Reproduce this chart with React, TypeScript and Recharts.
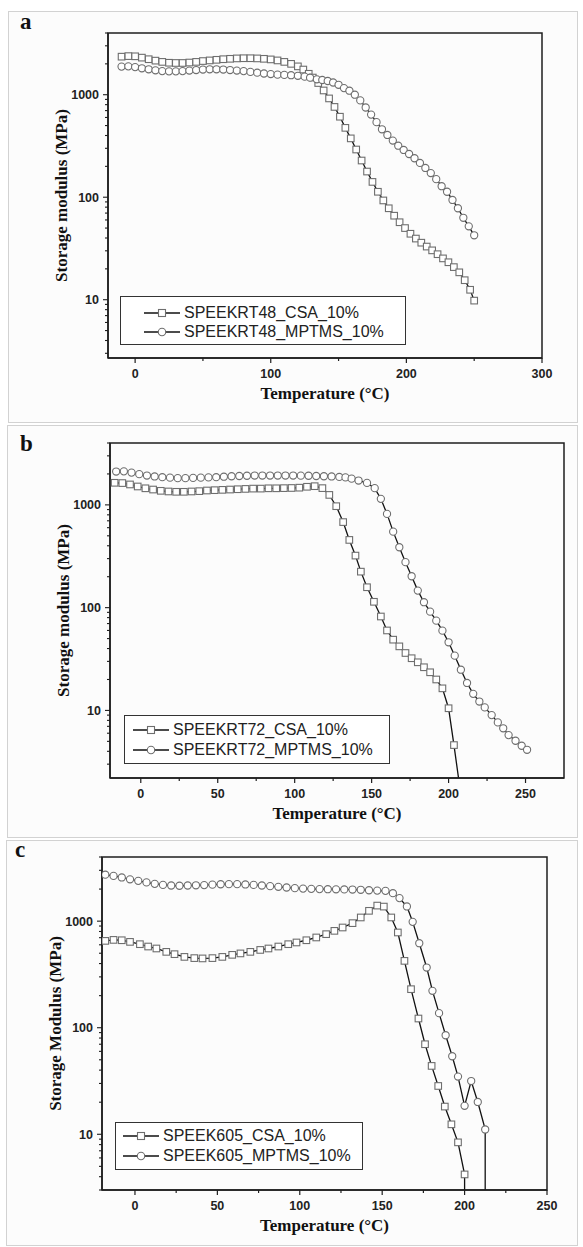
import React from 'react';
import { LineChart, Line, XAxis, YAxis, Legend, Label, ReferenceArea } from 'recharts';

// ---------- Panel a ----------
const tempA_CSA = [-10, -5, 0, 5, 10, 15, 20, 25, 30, 35, 40, 45, 50, 55, 60, 65, 70, 75, 80, 85, 90, 95, 100, 105, 110, 115, 120, 124, 128, 131, 135, 139, 143, 147, 151, 155, 159, 163, 167, 171, 175, 179, 183, 187, 191, 195, 199, 203, 207, 211, 215, 219, 223, 227, 231, 235, 239, 243, 247, 250];
const modA_CSA = [2350, 2380, 2370, 2300, 2220, 2150, 2090, 2050, 2040, 2040, 2060, 2090, 2130, 2160, 2190, 2220, 2240, 2260, 2270, 2270, 2260, 2240, 2210, 2160, 2090, 2000, 1890, 1760, 1600, 1470, 1300, 1100, 920, 760, 610, 475, 375, 292, 228, 178, 141, 113, 93, 78, 66, 57, 50, 44, 39.5, 36, 33, 30.3, 27.8, 25.3, 23.2, 20.8, 18.5, 15.5, 12.5, 9.8];
const tempA_MPTMS = [-10, -5, 0, 5, 10, 15, 20, 25, 30, 35, 40, 45, 50, 55, 60, 65, 70, 75, 80, 85, 90, 95, 100, 105, 110, 115, 120, 125, 129, 134, 138, 142, 146, 150, 154, 158, 162, 166, 170, 174, 178, 182, 186, 190, 194, 198, 202, 206, 210, 214, 218, 222, 226, 230, 234, 238, 242, 246, 250];
const modA_MPTMS = [1880, 1890, 1860, 1810, 1770, 1730, 1700, 1690, 1690, 1700, 1720, 1740, 1760, 1770, 1770, 1760, 1740, 1720, 1700, 1670, 1640, 1610, 1590, 1570, 1560, 1550, 1530, 1500, 1466, 1413, 1392, 1361, 1315, 1250, 1160, 1094, 1000, 880, 750, 640, 540, 460, 405, 357, 318, 289, 264, 240, 216, 193, 172, 150, 128, 113, 94, 78, 63, 52, 42.5];

// ---------- Panel b ----------
const tempB_CSA = [-17, -12, -7, -2, 3, 8, 13, 18, 23, 28, 33, 38, 43, 48, 53, 58, 63, 68, 73, 78, 83, 88, 93, 98, 103, 108, 113, 118, 122.5, 127, 131.5, 135.5, 139.5, 143, 147, 151.5, 156, 160, 164, 168, 172, 176, 180, 184, 188, 192, 196, 200, 203.5, 208];
const modB_CSA = [1640, 1630, 1580, 1510, 1450, 1410, 1370, 1350, 1340, 1340, 1350, 1360, 1380, 1390, 1400, 1410, 1420, 1430, 1440, 1440, 1450, 1450, 1455, 1460, 1470, 1500, 1520, 1455, 1250, 971, 680, 456, 321, 224, 158, 114, 82, 60, 48.8, 42, 36.2, 32.2, 29.4, 26.3, 23.5, 20, 16.4, 10.5, 4.6, 1.5];
const tempB_MPTMS = [-16, -11, -6, -1, 4, 9, 14, 19, 24, 29, 34, 39, 44, 49, 54, 59, 64, 69, 74, 79, 84, 89, 94, 99, 104, 109, 114, 119, 124, 129, 133, 137, 141.5, 147, 152, 156, 160, 164, 168, 172, 176, 180, 184, 188, 192, 196, 200, 204, 208, 212, 216, 220, 223.5, 228, 232, 235.5, 239, 243.5, 247.5, 251];
const modB_MPTMS = [2110, 2120, 2060, 1990, 1930, 1890, 1860, 1840, 1820, 1820, 1830, 1840, 1850, 1860, 1880, 1900, 1910, 1920, 1930, 1930, 1930, 1930, 1930, 1930, 1925, 1920, 1910, 1900, 1890, 1870, 1850, 1800, 1725, 1637, 1455, 1144, 817, 549, 387, 277, 202, 146.5, 113, 91.4, 74.7, 59.7, 46, 34.1, 24.9, 18.5, 14.5, 12.2, 10.7, 9.0, 7.65, 6.7, 5.75, 5.07, 4.53, 4.14];

// ---------- Panel c ----------
const tempC_CSA = [-18, -13, -8, -3, 3, 8, 13, 19, 24, 30, 36, 41, 47, 53, 59, 64, 70, 76, 81, 87, 93, 98, 104, 110, 116, 121, 126, 132, 137, 142, 147, 151, 155.5, 159.5, 163.5, 167.5, 172, 176, 180, 184, 188, 192, 196, 200, 200];
const modC_CSA = [653, 667, 662, 639, 608, 578, 554, 515, 490, 462, 450, 447, 450, 462, 483, 498, 515, 537, 554, 578, 608, 631, 662, 703, 755, 811, 872, 958, 1083, 1250, 1400, 1370, 1083, 783, 424, 230, 122, 70, 43.8, 28.4, 18.2, 12.4, 8.4, 4.2, 2];
const tempC_MPTMS = [-18, -13, -8, -3, 2, 7, 12, 17, 22, 27, 32, 37, 42, 47, 52, 57, 62, 67, 72, 77, 82, 87, 92, 97, 102, 107, 112, 117, 122, 127, 132, 137, 142, 147, 152, 156.5, 160.5, 165, 168.5, 172.5, 177, 180.5, 184.5, 188.5, 192.5, 196, 200, 204, 208, 212.5, 212.5];
const modC_MPTMS = [2730, 2660, 2570, 2470, 2390, 2310, 2240, 2190, 2160, 2150, 2160, 2170, 2180, 2200, 2220, 2225, 2225, 2210, 2190, 2160, 2130, 2100, 2070, 2040, 2020, 2010, 2000, 1995, 1990, 1985, 1980, 1970, 1950, 1935, 1925, 1830, 1645, 1374, 985, 621, 367, 222, 137, 85, 54, 34.8, 18.5, 31.6, 20.1, 11.1, 2];

// ---------- Labels & ticks ----------
const namesA = ['SPEEKRT48_CSA_10%', 'SPEEKRT48_MPTMS_10%'];
const namesB = ['SPEEKRT72_CSA_10%', 'SPEEKRT72_MPTMS_10%'];
const namesC = ['SPEEK605_CSA_10%', 'SPEEK605_MPTMS_10%'];
const xMajorA = [0, 100, 200, 300];
const xMinorA = [50, 150, 250];
const xMajorBC = [0, 50, 100, 150, 200, 250];
const xMinorBC = [25, 75, 125, 175, 225];
const yMajor = [10, 100, 1000];
const yDecades = [1, 10, 100, 1000];
const yMultipliers = [1, 2, 3, 4, 5, 6, 7, 8, 9];
const xTitle = 'Temperature (°C)';
const yTitleAB = 'Storage modulus (MPa)';
const yTitleC = 'Storage Modulus (MPa)';

const AXIS = '#1e1e1e';
const MARK = '#6e6e6e';
const LINE = '#111';
const serif = '"Liberation Serif", "Times New Roman", serif';
const sans = '"Liberation Sans", Arial, sans-serif';

type Shape = 'square' | 'circle';
type Series = { name: string; t: number[]; v: number[]; shape: Shape };
type Cfg = {
  letter: string;
  letterX: number;
  letterBase: number;
  frameTop: number;
  frameBottom: number;
  frameLeft: number;
  plot: { left: number; top: number; right: number; bottom: number };
  xDomain: [number, number];
  yDomain: [number, number];
  xMajor: number[];
  xMinor: number[];
  yTitle: string;
  series: Series[];
  legend: { left: number; top: number; width: number; padLeft: number; rowH: number; padTop: number };
};

const W = 583;
const XH = 50;

const squareDot = (p: any) => {
  if (p.cx == null || p.cy == null) return <g key={`s${p.index}`} />;
  return <rect key={`s${p.index}`} x={p.cx - 3.3} y={p.cy - 3.3} width={6.6} height={6.6} fill="#fff" stroke={MARK} strokeWidth={1.1} />;
};
const circleDot = (p: any) => {
  if (p.cx == null || p.cy == null) return <g key={`c${p.index}`} />;
  return <circle key={`c${p.index}`} cx={p.cx} cy={p.cy} r={3.6} fill="#fff" stroke={MARK} strokeWidth={1.1} />;
};

const makeXTick = (major: number[]) => (p: any) => {
  const { x, y, payload } = p;
  const isMajor = major.includes(payload.value);
  return (
    <g>
      <line x1={x} x2={x} y1={y} y2={y + (isMajor ? 5 : 3)} stroke={AXIS} strokeWidth={1.2} />
      {isMajor && (
        <text x={x} y={y + 20} textAnchor="middle" fontFamily={sans} fontWeight={700} fontSize={12.5} fill="#222">
          {payload.value}
        </text>
      )}
    </g>
  );
};

const yTickFn = (p: any) => {
  const { x, y, payload } = p;
  const isMajor = yMajor.includes(payload.value);
  return (
    <g>
      <line x1={x} x2={x - (isMajor ? 5 : 3)} y1={y} y2={y} stroke={AXIS} strokeWidth={1.1} />
      {isMajor && (
        <text x={x - 9} y={y + 4.5} textAnchor="end" fontFamily={sans} fontWeight={700} fontSize={12.5} fill="#222">
          {payload.value}
        </text>
      )}
    </g>
  );
};

const MarkerIcon = ({ shape }: { shape: Shape }) => (
  <svg width={38} height={14} style={{ display: 'block' }}>
    <line x1={1} x2={37} y1={7} y2={7} stroke={LINE} strokeWidth={1.4} />
    {shape === 'square' ? (
      <rect x={15.5} y={3.5} width={7} height={7} fill="#fff" stroke={MARK} strokeWidth={1.1} />
    ) : (
      <circle cx={19} cy={7} r={3.7} fill="#fff" stroke={MARK} strokeWidth={1.1} />
    )}
  </svg>
);

const Panel = ({ cfg }: { cfg: Cfg }) => {
  const chartTop = cfg.frameTop;
  const chartH = cfg.frameBottom - cfg.frameTop;
  const p = cfg.plot;
  const yTicks = yDecades
    .flatMap((d) => yMultipliers.map((m) => m * d))
    .filter((v) => v >= cfg.yDomain[0] && v <= cfg.yDomain[1]);
  const xTicks = [...cfg.xMajor, ...cfg.xMinor].sort((a, b) => a - b);
  const axisLine = { stroke: AXIS, strokeWidth: 1.5 };
  const plotTopC = p.top - chartTop;
  const plotBottomC = p.bottom - chartTop;
  const lg = cfg.legend;

  return (
    <>
      <div
        style={{
          position: 'absolute',
          left: cfg.frameLeft,
          top: cfg.frameTop,
          width: 578 - cfg.frameLeft,
          height: cfg.frameBottom - cfg.frameTop,
          border: '1px solid #d2d2d2',
          background: '#fcfcfc',
          boxSizing: 'border-box',
        }}
      />
      <div
        style={{
          position: 'absolute',
          left: cfg.letterX,
          top: cfg.letterBase - 20,
          fontFamily: serif,
          fontWeight: 700,
          fontSize: 23,
          lineHeight: '23px',
          color: '#111',
        }}
      >
        {cfg.letter}
      </div>
      <div style={{ position: 'absolute', left: 0, top: chartTop }}>
        <LineChart
          width={W}
          height={chartH}
          margin={{ top: plotTopC, right: W - p.right, left: 0, bottom: chartH - plotBottomC - XH }}
        >
          <XAxis
            type="number"
            dataKey="t"
            domain={cfg.xDomain}
            allowDataOverflow
            ticks={xTicks}
            interval={0}
            tickLine={false}
            tickSize={0}
            tickMargin={0}
            tick={makeXTick(cfg.xMajor)}
            axisLine={axisLine}
            height={XH}
          >
            <Label
              content={() => (
                <text
                  x={(p.left + p.right) / 2}
                  y={plotBottomC + 41}
                  textAnchor="middle"
                  fontFamily={serif}
                  fontWeight={700}
                  fontSize={17}
                  fill="#111"
                >
                  {xTitle}
                </text>
              )}
            />
          </XAxis>
          <YAxis
            type="number"
            scale="log"
            domain={cfg.yDomain}
            allowDataOverflow
            ticks={yTicks}
            interval={0}
            width={p.left}
            tickLine={false}
            tickSize={0}
            tickMargin={0}
            tick={yTickFn}
            axisLine={axisLine}
          >
            <Label
              content={() => (
                <text
                  transform={`translate(${p.left - 41},${(plotTopC + plotBottomC) / 2}) rotate(-90)`}
                  textAnchor="middle"
                  fontFamily={serif}
                  fontWeight={700}
                  fontSize={17}
                  fill="#111"
                >
                  {cfg.yTitle}
                </text>
              )}
            />
          </YAxis>
          <ReferenceArea
            x1={cfg.xDomain[0]}
            x2={cfg.xDomain[1]}
            y1={cfg.yDomain[0]}
            y2={cfg.yDomain[1]}
            fill="none"
            fillOpacity={0}
            stroke={AXIS}
            strokeWidth={1.5}
            strokeOpacity={1}
            ifOverflow="visible"
          />
          {cfg.series.map((s) => (
            <Line
              key={s.name}
              name={s.name}
              data={s.t.map((t, i) => ({ t, v: s.v[i] }))}
              dataKey="v"
              type="linear"
              stroke={LINE}
              strokeWidth={1.3}
              dot={s.shape === 'square' ? squareDot : circleDot}
              activeDot={false}
              isAnimationActive={false}
            />
          ))}
          <Legend
            layout="horizontal"
            verticalAlign="middle"
            align="center"
            wrapperStyle={{ left: lg.left, top: lg.top - chartTop, width: lg.width }}
            content={() => (
              <div
                style={{
                  border: '1px solid #333',
                  background: '#fff',
                  boxSizing: 'border-box',
                  width: lg.width,
                  padding: `${lg.padTop}px 0 3px ${lg.padLeft}px`,
                }}
              >
                {cfg.series.map((s) => (
                  <div key={s.name} style={{ display: 'flex', alignItems: 'center', height: lg.rowH }}>
                    <MarkerIcon shape={s.shape} />
                    <span style={{ fontFamily: sans, fontSize: 16, color: '#222', marginLeft: 3, whiteSpace: 'nowrap' }}>
                      {s.name}
                    </span>
                  </div>
                ))}
              </div>
            )}
          />
        </LineChart>
      </div>
    </>
  );
};

const cfgA: Cfg = {
  letter: 'a',
  letterX: 20,
  letterBase: 30,
  frameTop: 11,
  frameBottom: 423,
  frameLeft: 8,
  plot: { left: 108, top: 33, right: 542, bottom: 358 },
  xDomain: [-20, 300],
  yDomain: [2.7, 4000],
  xMajor: xMajorA,
  xMinor: xMinorA,
  yTitle: yTitleAB,
  series: [
    { name: namesA[0], t: tempA_CSA, v: modA_CSA, shape: 'square' },
    { name: namesA[1], t: tempA_MPTMS, v: modA_MPTMS, shape: 'circle' },
  ],
  legend: { left: 120, top: 296, width: 286, padLeft: 22, rowH: 19, padTop: 6 },
};

const cfgB: Cfg = {
  letter: 'b',
  letterX: 20,
  letterBase: 452,
  frameTop: 425,
  frameBottom: 838,
  frameLeft: 7,
  plot: { left: 110, top: 443, right: 564, bottom: 778 },
  xDomain: [-20, 275],
  yDomain: [2.2, 4000],
  xMajor: xMajorBC,
  xMinor: xMinorBC,
  yTitle: yTitleAB,
  series: [
    { name: namesB[0], t: tempB_CSA, v: modB_CSA, shape: 'square' },
    { name: namesB[1], t: tempB_MPTMS, v: modB_MPTMS, shape: 'circle' },
  ],
  legend: { left: 124, top: 715, width: 266, padLeft: 7, rowH: 20, padTop: 4 },
};

const cfgC: Cfg = {
  letter: 'c',
  letterX: 15,
  letterBase: 858,
  frameTop: 840,
  frameBottom: 1246,
  frameLeft: 6,
  plot: { left: 102, top: 857, right: 547, bottom: 1190 },
  xDomain: [-20, 250],
  yDomain: [3, 4000],
  xMajor: xMajorBC,
  xMinor: xMinorBC,
  yTitle: yTitleC,
  series: [
    { name: namesC[0], t: tempC_CSA, v: modC_CSA, shape: 'square' },
    { name: namesC[1], t: tempC_MPTMS, v: modC_MPTMS, shape: 'circle' },
  ],
  legend: { left: 115, top: 1122, width: 248, padLeft: 6, rowH: 20, padTop: 3 },
};

export default function App() {
  return (
    <div style={{ position: 'absolute', left: 0, top: 0, width: W, height: 1247, background: '#fff', overflow: 'hidden' }}>
      <Panel cfg={cfgA} />
      <Panel cfg={cfgB} />
      <Panel cfg={cfgC} />
    </div>
  );
}
